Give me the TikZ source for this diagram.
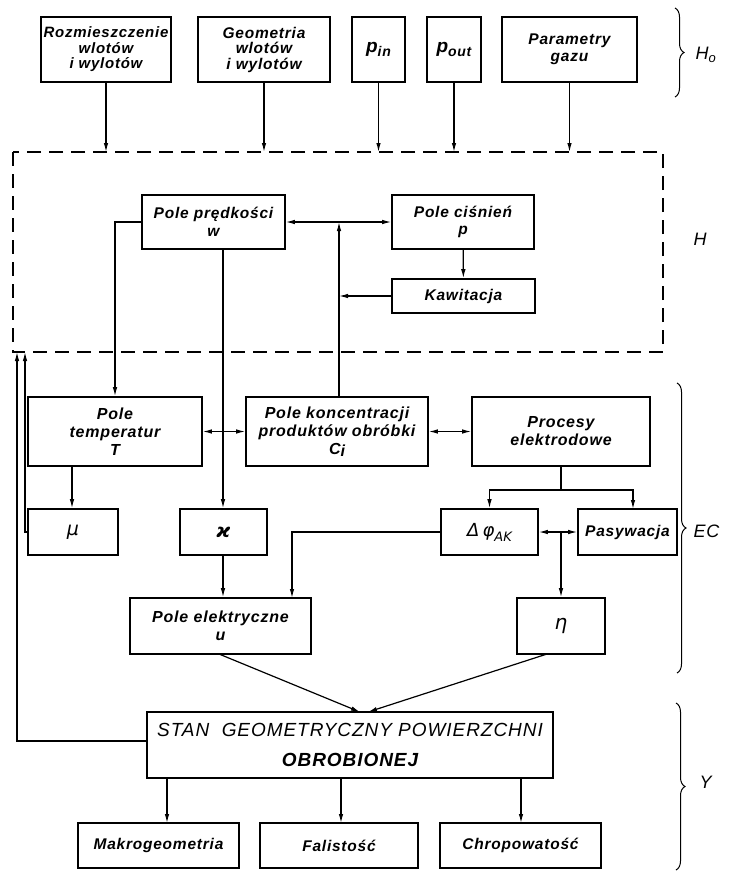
\documentclass[tikz,border=0pt]{standalone}
\usepackage{fontspec}
\newfontfamily\lett{Liberation Sans}[LetterSpace=5]
\newfontfamily\grk{DejaVu Sans}
\usetikzlibrary{arrows.meta,decorations.pathreplacing}
\tikzset{
 box/.style={draw, line width=1.6pt, inner sep=0pt, align=center, font=\lett\bfseries\itshape\fontsize{15.5}{17.5}\selectfont},
 con/.style={line width=1.2pt},
 arr/.style={con, -{Latex[length=9pt,width=4.5pt]}},
 darr/.style={con, {Latex[length=9pt,width=4.5pt]}-{Latex[length=9pt,width=4.5pt]}},
 brc/.style={decorate, decoration={brace, amplitude=9pt}, line width=1pt},
 lbl/.style={font=\lett\itshape\fontsize{18}{20}\selectfont},
 dashbox/.style={line width=1.3pt, dash pattern=on 14pt off 8pt}
}
\begin{document}
\begin{tikzpicture}[x=1pt,y=-1pt]
\useasboundingbox (0,0) rectangle (729,873);
% top row
\node[box, minimum width=130pt, minimum height=65pt, font=\lett\bfseries\itshape\fontsize{15}{15.5}\selectfont] (b1) at (106,49.5) {Rozmieszczenie\\wlotów\\i wylotów};
\node[box, minimum width=132pt, minimum height=65pt, font=\lett\bfseries\itshape\fontsize{15.5}{15.5}\selectfont] (b2) at (264,49.5) {Geometria\\wlotów\\i wylotów};
\node[box, minimum width=53pt, minimum height=65pt] (b3) at (378.5,49.5) {\fontsize{19}{20}\selectfont p\raisebox{-0.4ex}{\fontsize{14}{15}\selectfont in}};
\node[box, minimum width=54pt, minimum height=65pt] (b4) at (454,49.5) {\fontsize{19}{20}\selectfont p\raisebox{-0.4ex}{\fontsize{14}{15}\selectfont out}};
\node[box, minimum width=135pt, minimum height=65pt] (b5) at (569.5,49.5) {Parametry\\gazu};
% H region
\coordinate (Htl) at (13,152);
\coordinate (Hbr) at (663,352);
\draw[dashbox] (Htl) rectangle (Hbr);
\foreach \b in {b1,b2,b3,b4,b5} \draw[arr] (\b.south) -- (\b.south |- Htl);
\node[box, minimum width=143pt, minimum height=54pt] (vel) at (213.5,222) {Pole prędkości\\w};
\node[box, minimum width=142pt, minimum height=54pt] (pres) at (463,222) {Pole ciśnień\\p};
\node[box, minimum width=143pt, minimum height=34pt] (kaw) at (463.5,296) {Kawitacja};
% EC region
\node[box, minimum width=174pt, minimum height=69pt, font=\lett\bfseries\itshape\fontsize{16}{18}\selectfont] (temp) at (115,431.5) {Pole\\temperatur\\T};
\node[box, minimum width=182pt, minimum height=69pt, font=\lett\bfseries\itshape\fontsize{16}{18}\selectfont] (conc) at (337,431.5) {Pole koncentracji\\produktów obróbki\\C\raisebox{-0.3ex}{i}};
\node[box, minimum width=178pt, minimum height=69pt, font=\lett\bfseries\itshape\fontsize{16}{18}\selectfont] (proc) at (561,431.5) {Procesy\\elektrodowe};
\node[box, minimum width=90pt, minimum height=46pt] (mu) at (73,532) {\grk\mdseries\itshape\fontsize{19}{20}\selectfont μ};
\node[box, minimum width=87pt, minimum height=46pt] (kap) at (223.5,532) {\grk\bfseries\itshape\fontsize{19}{20}\selectfont ϰ};
\node[box, minimum width=97pt, minimum height=46pt] (dphi) at (489.5,532) {\grk\mdseries\fontsize{18}{20}\selectfont Δ\,\itshape φ\raisebox{-0.5ex}{\fontsize{13}{14}\selectfont AK}};
\node[box, minimum width=99pt, minimum height=46pt] (pas) at (627.5,532) {Pasywacja};
\node[box, minimum width=181pt, minimum height=56pt, font=\lett\bfseries\itshape\fontsize{16}{18}\selectfont] (elec) at (220.5,626) {Pole elektryczne\\u};
\node[box, minimum width=88pt, minimum height=56pt] (eta) at (561,626) {\grk\mdseries\itshape\fontsize{20}{20}\selectfont η};
% Y region
\node[box, minimum width=406pt, minimum height=66pt, font=\lett\itshape\fontsize{19}{30}\selectfont] (stan) at (350,745) {STAN\ \ GEOMETRYCZNY POWIERZCHNI\\\bfseries OBROBIONEJ};
\node[box, minimum width=161pt, minimum height=45pt] (mak) at (158.5,845.5) {Makrogeometria};
\node[box, minimum width=158pt, minimum height=45pt] (fal) at (339,845.5) {Falistość};
\node[box, minimum width=161pt, minimum height=45pt] (chr) at (520.5,845.5) {Chropowatość};
% connectors in H
\draw[darr] (vel) -- (pres);
\draw[arr] (pres) -- (kaw);
\coordinate (cx) at (339,466);
\draw[arr] (cx |- conc.north) -- (cx |- vel.east);
\draw[arr] (kaw.west) -- (kaw.west -| cx);
\draw[arr] (vel.west) -| (temp.north);
\coordinate (kx) at (223,300);
\draw[arr] (kx |- vel.south) -- (kx |- kap.north);
% connectors in EC
\draw[darr] (temp) -- (conc);
\draw[darr] (conc) -- (proc);
\coordinate (pj) at (561,490);
\coordinate (pasin) at (633,509);
\draw[con] (proc.south) -- (pj);
\draw[arr] (pj) -| (dphi.north);
\draw[arr] (pj) -| (pasin);
\draw[darr] (dphi) -- (pas);
\draw[arr] (eta.north |- dphi.east) -- (eta.north);
\coordinate (ein) at (292,598);
\draw[arr] (dphi.west) -| (ein);
\draw[arr] (kx |- kap.south) -- (kx |- elec.north);
\coordinate (mx) at (72,470);
\draw[arr] (mx |- temp.south) -- (mx |- mu.north);
\coordinate (sl) at (360,712);
\coordinate (sr) at (368,712);
\coordinate (el) at (219,654);
\coordinate (er) at (547,654);
\draw[arr] (el) -- (sl);
\draw[arr] (er) -- (sr);
% feedback
\coordinate (fb1) at (17,352);
\coordinate (fb2) at (25,352);
\draw[arr] (stan.west |- 0,741) -| (fb1);
\draw[arr] (mu.west) -| (fb2);
% to bottom boxes
\coordinate (m1) at (167,823);
\coordinate (m2) at (341,823);
\coordinate (m3) at (521,823);
\foreach \m in {m1,m2,m3} \draw[arr] (\m |- stan.south) -- (\m);
% braces and labels
\draw[brc] (675,8) -- (675,97);
\node[lbl, anchor=west] (lHo) at (692,55) {H\raisebox{-0.3ex}{\fontsize{13}{14}\selectfont o}};
\node[lbl] (lH) at (700,239) {H};
\draw[brc] (677,383) -- (677,673);
\node[lbl, anchor=west] (lEC) at (690,531) {EC};
\draw[brc] (676,703) -- (676,870);
\node[lbl, anchor=west] (lY) at (696,782) {Y};
\end{tikzpicture}
\end{document}
